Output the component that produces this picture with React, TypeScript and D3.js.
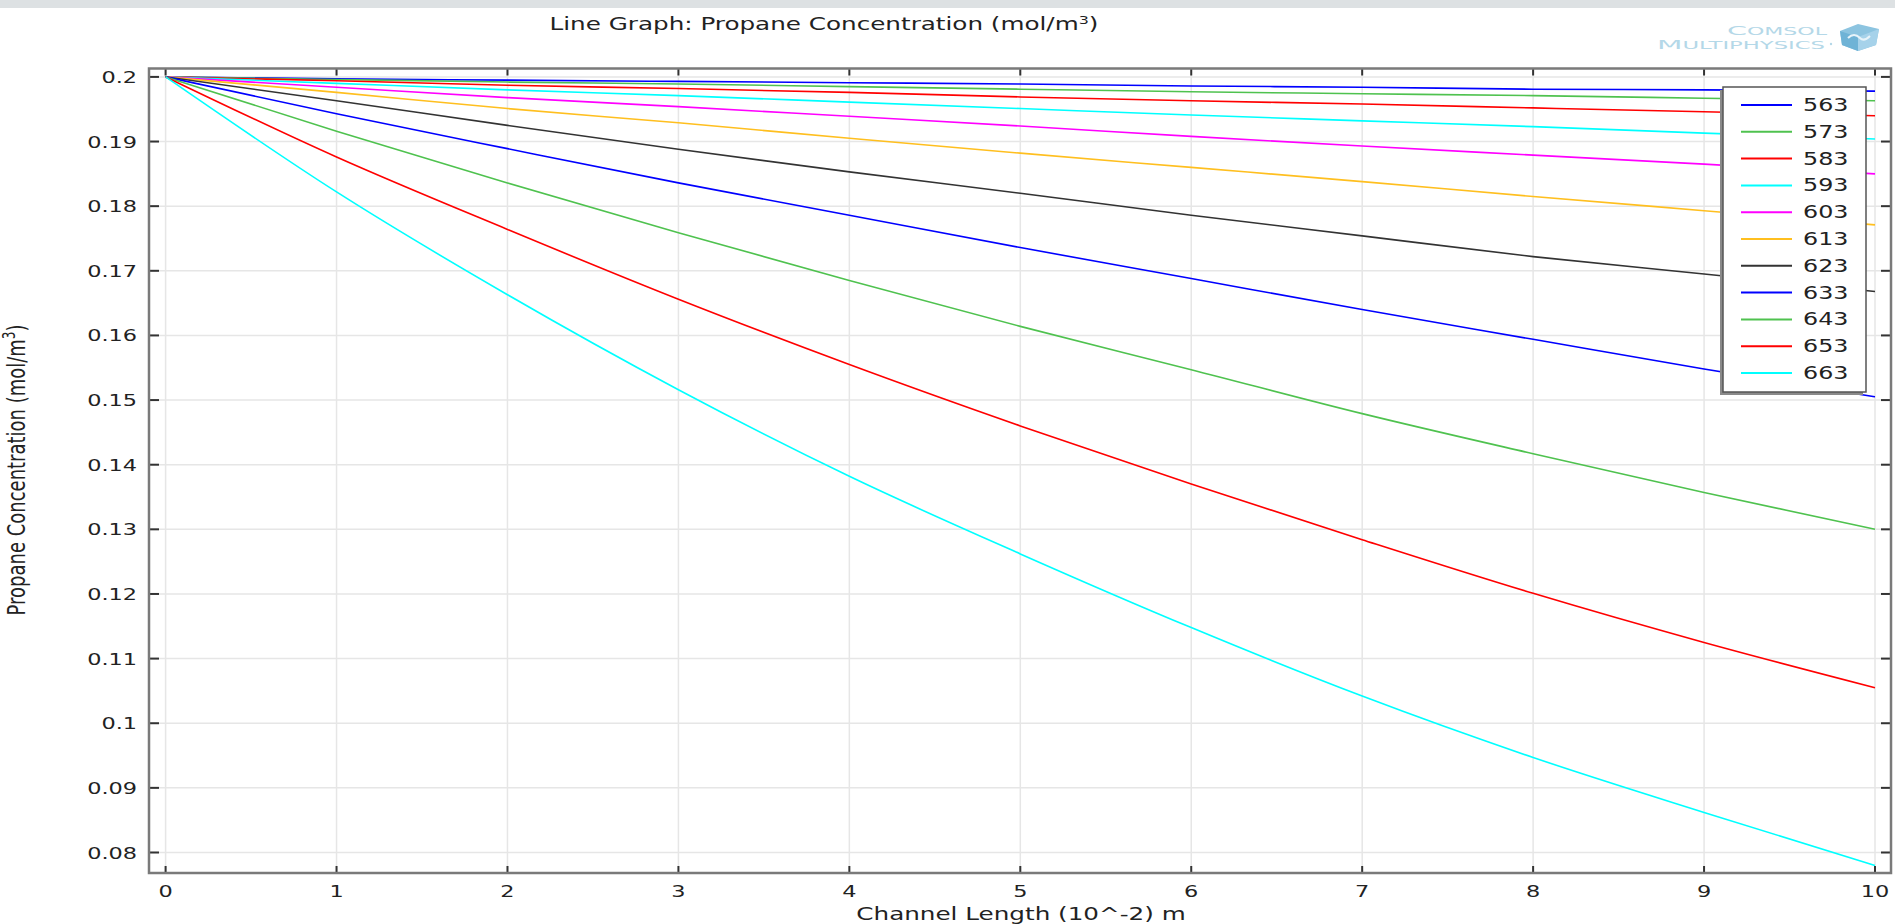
import React from "react";
import * as d3 from "d3";

const W = 1895;
const H = 924;

const xValues = [0, 1, 2, 3, 4, 5, 6, 7, 8, 9, 10];
const xTicks = [0, 1, 2, 3, 4, 5, 6, 7, 8, 9, 10];
const yTicks = [0.08, 0.09, 0.1, 0.11, 0.12, 0.13, 0.14, 0.15, 0.16, 0.17, 0.18, 0.19, 0.2];

const seriesNames = ["563", "573", "583", "593", "603", "613", "623", "633", "643", "653", "663"];
const seriesColors = ["#0000ff", "#4fc24f", "#ff0000", "#00ffff", "#ff00ff", "#ffbf1f", "#333333", "#0000ff", "#4fc24f", "#ff0000", "#00ffff"];

const s563 = [0.2, 0.1997, 0.1995, 0.1993, 0.1991, 0.1989, 0.1986, 0.1984, 0.1981, 0.198, 0.1978];
const s573 = [0.2, 0.1996, 0.1992, 0.1989, 0.1985, 0.1981, 0.1977, 0.1974, 0.1971, 0.1967, 0.1963];
const s583 = [0.2, 0.1994, 0.1987, 0.1982, 0.1976, 0.1969, 0.1963, 0.1958, 0.1952, 0.1946, 0.194];
const s593 = [0.2, 0.199, 0.198, 0.1971, 0.1961, 0.1951, 0.1941, 0.1932, 0.1923, 0.1913, 0.1904];
const s603 = [0.2, 0.1984, 0.1968, 0.1954, 0.1939, 0.1924, 0.1908, 0.1893, 0.1879, 0.1865, 0.185];
const s613 = [0.2, 0.1976, 0.1951, 0.1929, 0.1905, 0.1882, 0.186, 0.1838, 0.1815, 0.1793, 0.1771];
const s623 = [0.2, 0.1963, 0.1925, 0.1888, 0.1853, 0.182, 0.1786, 0.1754, 0.1722, 0.1695, 0.1668];
const s633 = [0.2, 0.1943, 0.1889, 0.1836, 0.1786, 0.1736, 0.1688, 0.164, 0.1594, 0.1548, 0.1505];
const s643 = [0.2, 0.1916, 0.1836, 0.1759, 0.1685, 0.1614, 0.1547, 0.1479, 0.1417, 0.1357, 0.13];
const s653 = [0.2, 0.1876, 0.1764, 0.1656, 0.1555, 0.146, 0.137, 0.1284, 0.1201, 0.1125, 0.1055];
const s663 = [0.2, 0.1822, 0.1663, 0.1516, 0.1382, 0.1262, 0.1148, 0.1042, 0.0947, 0.0862, 0.078];

const seriesValues = [s563, s573, s583, s593, s603, s613, s623, s633, s643, s653, s663];

const FONT = "'DejaVu Sans', Verdana, sans-serif";
const SX = 1.4;
const SX_T = 1.45;

// frame
const FL = 149, FR = 1891, FT = 68.5, FB = 873;

function SText({ x, y, size, anchor = "start", children, fill = "#222", sx = SX }: any) {
  return (
    <text transform={`translate(${x},${y}) scale(${sx},1)`} fontFamily={FONT} fontSize={size} textAnchor={anchor} fill={fill}>
      {children}
    </text>
  );
}

export default function App() {
  const x = d3.scaleLinear().domain([0, 10]).range([165.6, 1875]);
  const y = d3.scaleLinear().domain([0.2, 0.08]).range([76.9, 852.5]);

  const line = d3
    .line<number>()
    .x((_, i) => x(xValues[i]))
    .y((d) => y(d))
    .curve(d3.curveMonotoneX);

  const legX = 1723, legY = 87, legW = 143, legH = 305;
  const legStep = (373 - 105) / 10;

  return (
    <svg width={W} height={H} style={{ position: "absolute", left: 0, top: 0, background: "#fff" }}>
      <rect x={0} y={0} width={W} height={H} fill="#fff" />
      <rect x={0} y={0} width={W} height={8} fill="#dde1e3" />

      {/* title */}
      <text
        transform={`translate(824,30) scale(${SX_T},1)`}
        fontFamily={FONT}
        fontSize={17}
        textAnchor="middle"
        fill="#222"
      >
        Line Graph: Propane Concentration (mol/m
        <tspan dy={-6} fontSize={11}>3</tspan>
        <tspan dy={6}>)</tspan>
      </text>

      {/* logo */}
      <g>
        <text x={1727} y={35} fontFamily={FONT} fill="#b4d8e8" textLength={100} lengthAdjust="spacingAndGlyphs">
          <tspan fontSize={13}>C</tspan>
          <tspan fontSize={10}>OMSOL</tspan>
        </text>
        <text x={1657} y={49} fontFamily={FONT} fill="#b4d8e8" textLength={168} lengthAdjust="spacingAndGlyphs">
          <tspan fontSize={13}>M</tspan>
          <tspan fontSize={10}>ULTIPHYSICS</tspan>
        </text>
        <circle cx={1831} cy={44} r={1.2} fill="#b4d8e8" />
        <polygon points="1840,31 1858,24 1879,29 1876,45 1858,51 1842,45" fill="#8cc4e0" />
        <polygon points="1840,31 1858,37 1858,51 1842,45" fill="#6fb3d6" />
        <polygon points="1858,37 1879,29 1876,45 1858,51" fill="#a6d2ea" />
        <path d="M1848,38 q6,-6 12,0 q4,4 10,-2" stroke="#e8f4fa" strokeWidth={2} fill="none" />
      </g>

      {/* grid */}
      <g>
        {xTicks.map((t) => (
          <line key={"gx" + t} x1={x(t)} x2={x(t)} y1={FT} y2={FB} stroke="#e6e6e6" strokeWidth={1.5} />
        ))}
        {yTicks.map((t) => (
          <line key={"gy" + t} x1={FL} x2={FR} y1={y(t)} y2={y(t)} stroke="#e6e6e6" strokeWidth={1.5} />
        ))}
      </g>

      {/* series */}
      <g>
        {seriesValues.map((vals, i) => (
          <path key={seriesNames[i]} d={line(vals) || ""} fill="none" stroke={seriesColors[i]} strokeWidth={1.6} />
        ))}
      </g>

      {/* ticks */}
      <g stroke="#333" strokeWidth={2}>
        {xTicks.map((t) => (
          <g key={"tx" + t}>
            <line x1={x(t)} x2={x(t)} y1={FB} y2={FB - 7} />
            <line x1={x(t)} x2={x(t)} y1={FT} y2={FT + 7} />
          </g>
        ))}
        {yTicks.map((t) => (
          <g key={"ty" + t}>
            <line x1={FL} x2={FL + 10} y1={y(t)} y2={y(t)} />
            <line x1={FR} x2={FR - 10} y1={y(t)} y2={y(t)} />
          </g>
        ))}
      </g>

      {/* frame */}
      <rect x={FL} y={FT} width={FR - FL} height={FB - FT} fill="none" stroke="#7a7a7a" strokeWidth={2.5} />

      {/* tick labels */}
      <g>
        {xTicks.map((t) => (
          <SText key={"lx" + t} x={x(t)} y={897} size={16} anchor="middle">
            {String(t)}
          </SText>
        ))}
        {yTicks.map((t) => (
          <SText key={"ly" + t} x={137} y={y(t) + 6} size={16} anchor="end">
            {d3.format("~g")(+t.toFixed(2))}
          </SText>
        ))}
      </g>

      {/* axis titles */}
      <SText x={1021} y={920} size={17} anchor="middle" sx={SX_T}>
        Channel Length (10^-2) m
      </SText>
      <text
        transform={`translate(25,470) rotate(-90) scale(1,${SX})`}
        fontFamily={FONT}
        fontSize={18}
        textAnchor="middle"
        fill="#222"
      >
        Propane Concentration (mol/m
        <tspan dy={-7} fontSize={12}>3</tspan>
        <tspan dy={7}>)</tspan>
      </text>

      {/* legend */}
      <g>
        <rect x={legX - 3} y={legY + 3} width={legW} height={legH} fill="#8a8a8a" />
        <rect x={legX} y={legY} width={legW} height={legH} fill="#fff" stroke="#555" strokeWidth={1.5} />
        {seriesNames.map((n, i) => (
          <g key={"lg" + n}>
            <line x1={1741} x2={1792} y1={105 + i * legStep} y2={105 + i * legStep} stroke={seriesColors[i]} strokeWidth={2} />
            <SText x={1803} y={105 + i * legStep + 6} size={17}>
              {n}
            </SText>
          </g>
        ))}
      </g>
    </svg>
  );
}
